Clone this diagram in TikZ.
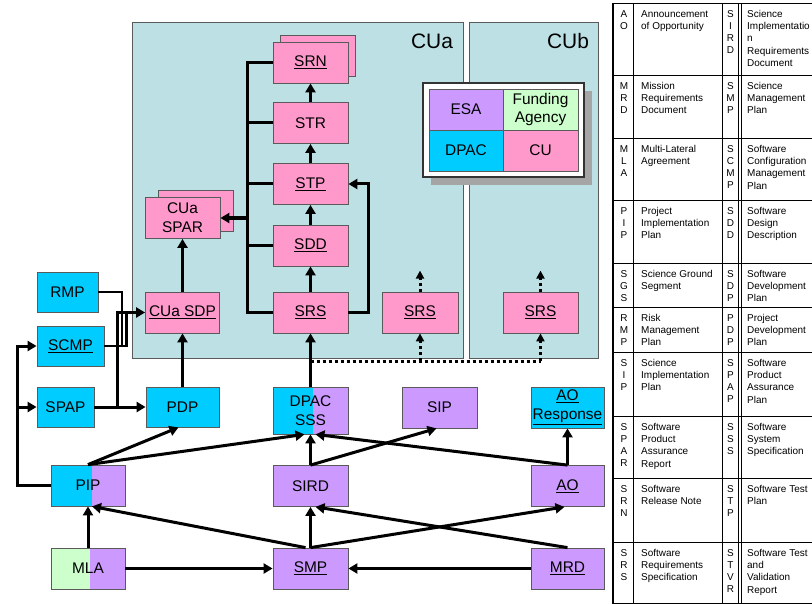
\documentclass[tikz,border=0pt]{standalone}
\usepackage{fontspec}
\setmainfont{Liberation Sans}
\usetikzlibrary{arrows.meta}
\definecolor{panelc}{RGB}{188,224,228}
\definecolor{pinkc}{RGB}{255,153,204}
\definecolor{cyanc}{RGB}{0,204,255}
\definecolor{purpc}{RGB}{204,153,255}
\definecolor{greenc}{RGB}{204,255,204}
\definecolor{edgec}{RGB}{90,90,90}
\definecolor{shadc}{RGB}{165,165,165}
\tikzset{
  box/.style={draw=edgec, line width=0.8bp, minimum width=75bp, minimum height=41bp, inner sep=0pt, align=center, font=\fontsize{15.5}{19}\selectfont},
  cu/.style={box, fill=pinkc},
  dp/.style={box, fill=cyanc},
  esa/.style={box, fill=purpc},
  fa/.style={box, fill=greenc},
  tip/.style={-{Triangle[length=9bp,width=10bp]}},
  conn/.style={line width=3bp, tip},
  link/.style={line width=3bp},
  thinlink/.style={line width=2.6bp},
  dotc/.style={line width=3bp, dash pattern=on 3bp off 3bp, -{Triangle[length=8bp,width=8bp]}},
  dotl/.style={line width=3bp, dash pattern=on 3bp off 3bp},
  tabtxt/.style={anchor=north west, inner sep=0pt, align=left, font=\fontsize{10}{12.3}\selectfont},
  tabab/.style={anchor=north, inner sep=0pt, align=center, font=\fontsize{10}{12.3}\selectfont},
  panellbl/.style={inner sep=0pt, font=\fontsize{21}{24}\selectfont}
}
\newcommand\trow[6]{%
  \node[tabab] (#1a) at (624,#2+7) {#3};
  \node[tabtxt] (#1b) at (641,#2+7) {#4};
  \node[tabab] (#1c) at (730.5,#2+7) {#5};
  \node[tabtxt] (#1d) at (747,#2+7) {#6};
}
\begin{document}
\begin{tikzpicture}[x=1bp,y=-1bp]
\useasboundingbox (0,0) rectangle (812,604);
\fill[white] (0,0) rectangle (812,604);

% panels
\filldraw[fill=panelc, draw=edgec, line width=0.8bp] (132,22) rectangle (463,358);
\filldraw[fill=panelc, draw=edgec, line width=0.8bp] (469,22) rectangle (598,358);
\node[panellbl] (cua) at (432,41) {CUa};
\node[panellbl] (cub) at (568,41) {CUb};

% legend
\fill[shadc] (431,91) rectangle (592,185);
\filldraw[fill=white, draw=black!80, line width=1.2bp] (423,83) rectangle (584,177);
\node[esa, minimum width=74bp] (lesa) at (466,109.5) {ESA};
\node[fa] (lfa) at (540.5,109.5) {Funding\\Agency};
\node[dp, minimum width=74bp] (ldpac) at (466,150.5) {DPAC};
\node[cu] (lcu) at (540.5,150.5) {CU};

% CU nodes
\node[cu] (srnb) at (317.5,55.5) {};
\node[cu] (srn) at (310.5,62.5) {\underline{SRN}};
\node[cu] (str) at (310.5,123) {STR};
\node[cu] (stp) at (310.5,184) {\underline{STP}};
\node[cu] (sdd) at (310.5,245.5) {\underline{SDD}};
\node[cu] (srs) at (310.5,312.5) {\underline{SRS}};
\node[cu] (sparb) at (196,211) {};
\node[cu] (spar) at (182.5,218) {CUa\\SPAR};
\node[cu, minimum width=74bp] (sdp) at (182.5,312.5) {\underline{CUa SDP}};
\node[cu, minimum width=76bp] (srsb) at (420,312.5) {\underline{SRS}};
\node[cu] (srsc) at (540.5,312.5) {\underline{SRS}};

% left DPAC nodes
\node[dp, minimum width=61bp, minimum height=40bp] (rmp) at (67.5,292) {RMP};
\node[dp, minimum width=67bp, minimum height=40bp] (scmp) at (70.5,346) {\underline{SCMP}};
\node[dp, minimum width=57bp, minimum height=40bp] (spap) at (65.5,407) {SPAP};
\node[dp, minimum width=73bp, minimum height=40bp] (pdp) at (182.5,407) {PDP};

% bottom nodes
\fill[cyanc] (273,387) rectangle (313,434);
\fill[purpc] (313,387) rectangle (348,434);
\node[box, minimum height=47bp] (dpac) at (310.5,410.5) {DPAC\\SSS};
\node[esa] (sip) at (439.5,407.5) {SIP};
\node[dp, minimum width=73bp] (aor) at (567.5,407.5) {\underline{AO}\\\underline{Response}};
\fill[cyanc] (51,465) rectangle (92,506);
\fill[purpc] (92,465) rectangle (125,506);
\node[box, minimum width=74bp] (pip) at (88,485.5) {PIP};
\node[esa] (sird) at (310.5,486) {SIRD};
\node[esa, minimum width=73bp] (ao) at (567.5,486) {\underline{AO}};
\fill[greenc] (51,548) rectangle (90,589);
\fill[purpc] (90,548) rectangle (125,589);
\node[box, minimum width=74bp] (mla) at (88,568.5) {MLA};
\node[esa] (smp) at (310.5,568.5) {\underline{SMP}};
\node[esa, minimum width=73bp] (mrd) at (567.5,568.5) {\underline{MRD}};

% coordinates
\coordinate (tr) at (247,0);
\coordinate (dj) at (310.5,361);
\coordinate (jx) at (117.5,0);
\coordinate (r1) at (122,346);
\coordinate (s1) at (126.5,313);
\coordinate (px) at (17,0);

% CU connectors
\draw[conn] (str) -- (srn);
\draw[conn] (stp) -- (str);
\draw[conn] (sdd) -- (stp);
\draw[conn] (srs) -- (sdd);
\draw[link] (srn.west) -- (srn.west -| tr) |- (srs.west);
\draw[link] (str.west) -- (str.west -| tr);
\draw[link] (stp.west) -- (stp.west -| tr);
\draw[link] (sdd.west) -- (sdd.west -| tr);
\draw[conn] (spar.east -| tr) -- (spar.east);
\draw[conn] (srs.east) -- ++(20,0) |- (stp.east);
\draw[conn] (sdp) -- (spar);
\draw[conn] (pdp) -- (sdp);
\draw[conn] (dpac) -- (srs);
\draw[dotl] (dj) -- (dj -| srsc.south);
\draw[dotc] (dj -| srsc.south) -- (srsc.south);
\draw[dotc] (dj -| srsb.south) -- (srsb.south);
\draw[dotc] (srsb.north) -- ++(0,-21);
\draw[dotc] (srsc.north) -- ++(0,-21);

% left connectors
\draw[thinlink] (rmp.east) -| (r1);
\draw[thinlink] (scmp.east) -| (s1);
\draw[conn] (spap.east) -- (pdp.west);
\draw[conn, line width=2.6bp] (spap.east -| jx) |- (sdp.west);
\draw[conn] (pip.west) -- (pip.west -| px) |- (scmp.west);
\draw[conn] (spap.west -| px) -- (spap.west);

% bottom connectors
\draw[conn] (pip.north) -- ([xshift=-4bp]pdp.south);
\draw[conn] (pip.north) -- ([xshift=-6bp]dpac.south);
\draw[conn] (sird) -- (dpac);
\draw[conn] (sird.north) -- ([xshift=-3bp]sip.south);
\draw[conn] (ao) -- (aor);
\draw[conn] (ao.north) -- ([xshift=5bp]dpac.south);
\draw[conn] (smp) -- (sird);
\draw[conn] (smp.north) -- ([xshift=-3bp]ao.south);
\draw[conn] (mrd.north) -- ([xshift=5bp]sird.south);
\draw[conn] (mrd) -- (smp);
\draw[conn] (mla) -- (smp);
\draw[conn] (mla) -- (pip);
\draw[conn] ([xshift=-5bp]smp.north) -- ([xshift=4bp]pip.south);

% table
\draw[line width=2bp] (613,3) -- (613,603);
\foreach \xx in {633.5,722,738,741} \draw[line width=0.8bp] (\xx,3) -- (\xx,603);
\foreach \yy in {3,75,138,200,263,307,352,416,478,542,603} \draw[line width=0.8bp] (612,\yy) -- (812,\yy);
\trow{ta}{3}{A\\O}{Announcement\\of Opportunity}{S\\I\\R\\D}{Science\\Implementatio\\n\\Requirements\\Document}
\trow{tb}{75}{M\\R\\D}{Mission\\Requirements\\Document}{S\\M\\P}{Science\\Management\\Plan}
\trow{tc}{138}{M\\L\\A}{Multi-Lateral\\Agreement}{S\\C\\M\\P}{Software\\Configuration\\Management\\Plan}
\trow{td}{200}{P\\I\\P}{Project\\Implementation\\Plan}{S\\D\\D}{Software\\Design\\Description}
\trow{te}{263}{S\\G\\S}{Science Ground\\Segment}{S\\D\\P}{Software\\Development\\Plan}
\trow{tf}{307}{R\\M\\P}{Risk\\Management\\Plan}{P\\D\\P}{Project\\Development\\Plan}
\trow{tg}{352}{S\\I\\P}{Science\\Implementation\\Plan}{S\\P\\A\\P}{Software\\Product\\Assurance\\Plan}
\trow{th}{416}{S\\P\\A\\R}{Software\\Product\\Assurance\\Report}{S\\S\\S}{Software\\System\\Specification}
\trow{ti}{478}{S\\R\\N}{Software\\Release Note}{S\\T\\P}{Software Test\\Plan}
\trow{tj}{542}{S\\R\\S}{Software\\Requirements\\Specification}{S\\T\\V\\R}{Software Test\\and\\Validation\\Report}
\end{tikzpicture}
\end{document}
